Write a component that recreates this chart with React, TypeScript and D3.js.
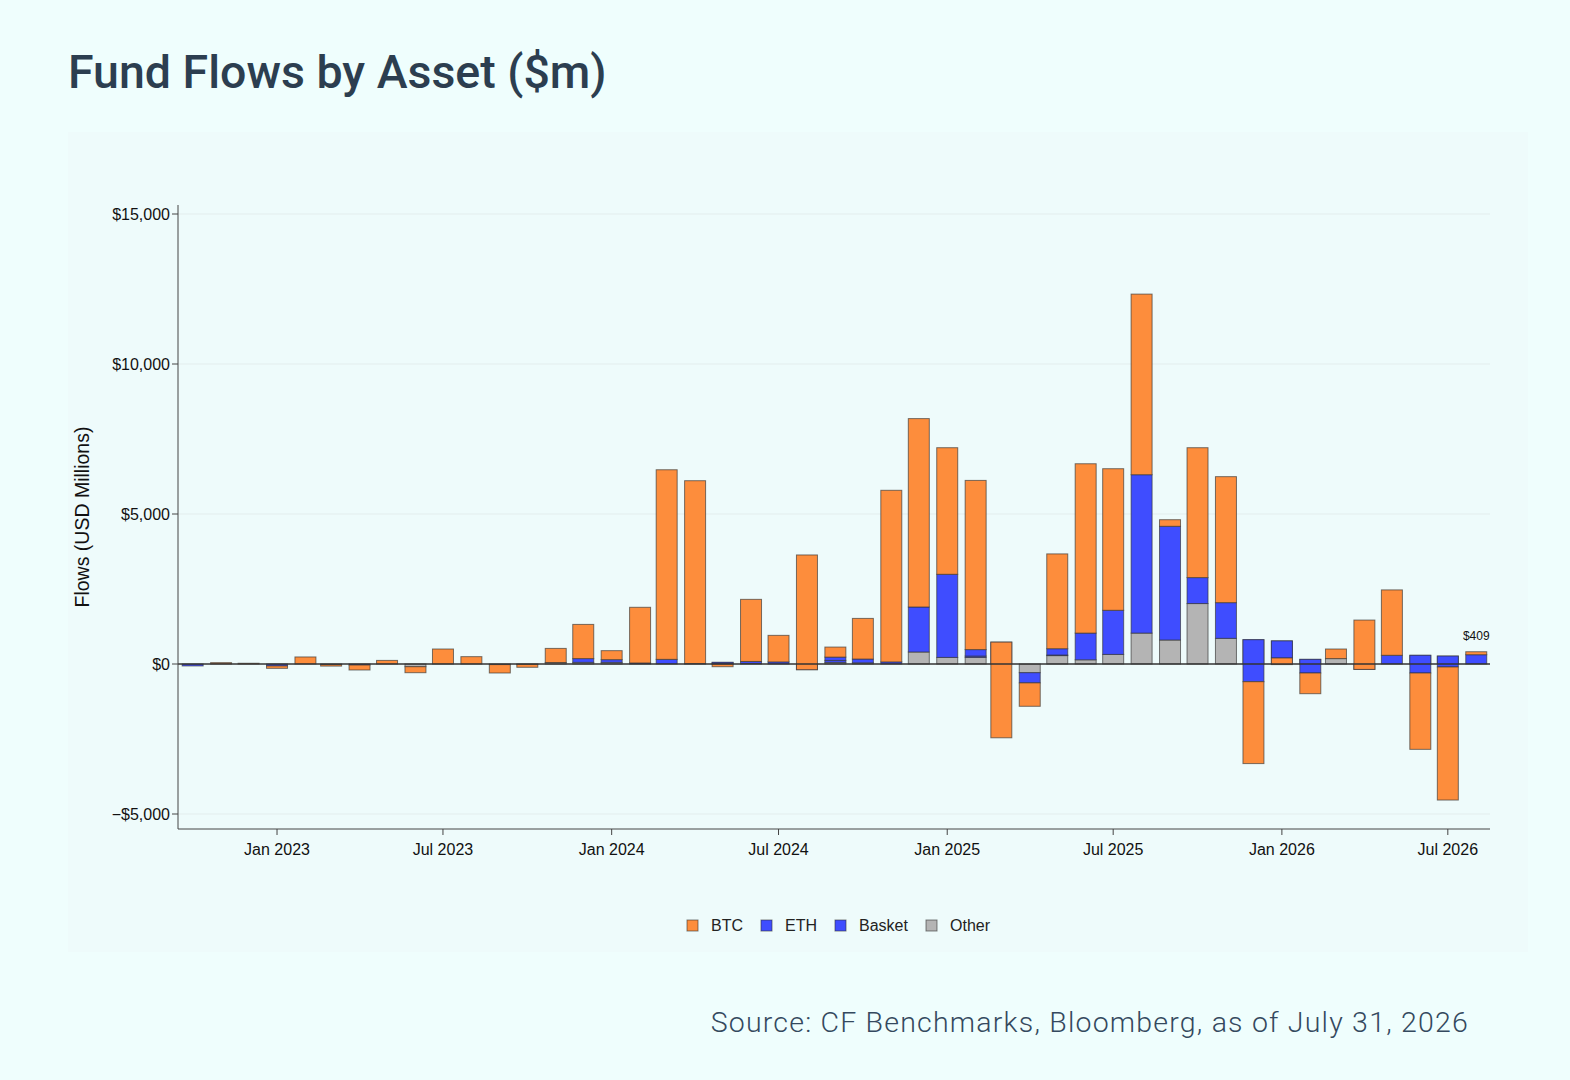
import React from 'react';
import * as d3 from 'd3';

// monthly flows, $m
const months = [
  '2022-10', '2022-11', '2022-12',
  '2023-01', '2023-02', '2023-03', '2023-04', '2023-05', '2023-06',
  '2023-07', '2023-08', '2023-09', '2023-10', '2023-11', '2023-12',
  '2024-01', '2024-02', '2024-03', '2024-04', '2024-05', '2024-06',
  '2024-07', '2024-08', '2024-09', '2024-10', '2024-11', '2024-12',
  '2025-01', '2025-02', '2025-03', '2025-04', '2025-05', '2025-06',
  '2025-07', '2025-08', '2025-09', '2025-10', '2025-11', '2025-12',
  '2026-01', '2026-02', '2026-03', '2026-04', '2026-05', '2026-06',
  '2026-07', '2026-08',
];

const other = [
  0, 0, 0, 0, 0, 0, 0, 0, -90, 0, 0, 0, 0, 50, 55,
  55, 0, 0, 0, 0, 20, 0, 0, 55, 40, 0, 400,
  220, 220, 0, -290, 280, 140, 320, 1030, 800, 2015, 855, 0,
  0, 0, 180, 0, 0, 0, 0, 0,
];
const eth = [
  -65, 0, 0, -65, 0, -20, -35, 0, 0, 0, 0, -20, -10, 0, 125,
  90, 35, 155, 15, 55, 65, 70, -190, 65, 125, 70, 1500,
  2770, 45, 730, -340, 20, 890, 1470, 5280, 3790, 865, 1190, 810,
  770, 155, 0, -180, 290, 290, 265, 310,
];
const basket = [
  0, 0, 0, 0, 0, 0, 0, 0, 0, 0, 0, 0, 0, 0, 0,
  0, 0, 0, 0, -55, 0, 0, 0, 110, 0, 0, 0,
  0, 215, 0, 0, 210, 0, 0, 0, 0, 0, 0, -1400,
  -570, -455, 0, 0, 0, -590, -365, 0,
];
const btc = [
  0, 45, 25, -80, 235, -50, -165, 120, -200, 500, 245, -280, -100, 470, 1140,
  300, 1855, 6320, 6095, -90, 2070, 885, 3825, 335, 1355, 5720, 6280,
  4220, 5640, -3190, -780, 3160, 5645, 4720, 6020, 220, 4330, 4200, -2730,
  -220, -690, 320, 1645, 2180, -2545, -4435, 99,
];

// stacking order (first = nearest zero, drawn first)
const seriesNames = ['Other', 'ETH', 'Basket', 'BTC'];
const seriesValues = [other, eth, basket, btc];
const seriesColors = ['#b4b4b4', '#3f4dff', '#3f4dff', '#fd8d3c'];

const legendNames = ['BTC', 'ETH', 'Basket', 'Other'];
const legendColors = ['#fd8d3c', '#3f4dff', '#3f4dff', '#b4b4b4'];

const xTicks = ['2023-01', '2023-07', '2024-01', '2024-07', '2025-01', '2025-07', '2026-01', '2026-07'];
const yTicks = [-5000, 0, 5000, 10000, 15000];

const parseMonth = d3.timeParse('%Y-%m');

export default function App() {
  const W = 1570;
  const H = 1080;
  const m = { left: 178, right: 1490, top: 205, bottom: 829 };

  const x = d3
    .scaleTime()
    .domain([new Date(2022, 8, 15), new Date(2026, 7, 16)])
    .range([m.left, m.right]);
  const y = d3.scaleLinear().domain([-5500, 15300]).range([m.bottom, m.top]);

  const barW = 21;
  const fmt = (v: number) => (v < 0 ? '\u2212$' : '$') + d3.format(',')(Math.abs(v));
  const tickFmt = d3.timeFormat('%b %Y');

  // cumulative stacking like plotly barmode "stack"
  const segments: { s: number; i: number; y0: number; y1: number }[] = [];
  months.forEach((mo, i) => {
    let acc = 0;
    seriesValues.forEach((vals, s) => {
      const v = vals[i];
      if (v !== 0) segments.push({ s, i, y0: acc, y1: acc + v });
      acc += v;
    });
  });

  const lastIdx = months.length - 1;
  const lastTotal = d3.sum(seriesValues, vals => vals[lastIdx]);
  const lastTop = d3.max(
    segments.filter(d => d.i === lastIdx),
    d => Math.max(d.y0, d.y1)
  ) || 0;

  const font = '"Liberation Sans", Arial, sans-serif';
  const legendTextW = [32, 32, 49, 38];
  let lx = 687;
  const legendX = legendTextW.map(w => {
    const p = lx;
    lx += 24 + w + 18;
    return p;
  });

  return (
    <svg width={W} height={H} style={{ position: 'absolute', left: 0, top: 0, display: 'block' }}>
      <rect width={W} height={H} fill="#effefd" />
      <rect x={68} y={132} width={1460} height={820} fill="#eefbfb" />

      <text x={68} y={88} fontFamily="Roboto, sans-serif" fontWeight={500} fontSize={46.5} fill="#2c3e50">
        Fund Flows by Asset ($m)
      </text>

      {/* grid */}
      {yTicks.filter(t => t !== 0).map(t => (
        <line key={t} x1={m.left} x2={m.right} y1={y(t)} y2={y(t)} stroke="#e3eded" strokeWidth={1} />
      ))}

      {/* bars */}
      {segments.map((d, k) => {
        const cx = x(parseMonth(months[d.i]) as Date);
        const top = y(Math.max(d.y0, d.y1));
        const bot = y(Math.min(d.y0, d.y1));
        return (
          <rect
            key={k}
            x={cx - barW / 2}
            y={top}
            width={barW}
            height={Math.max(0.5, bot - top)}
            fill={seriesColors[d.s]}
            stroke="rgba(50,50,50,0.65)"
            strokeWidth={1}
          />
        );
      })}

      {/* zero line */}
      <line x1={m.left} x2={m.right} y1={y(0)} y2={y(0)} stroke="#333" strokeWidth={1.5} />

      {/* y axis */}
      <line x1={m.left} x2={m.left} y1={m.top} y2={m.bottom} stroke="#444" strokeWidth={1} />
      {yTicks.map(t => (
        <g key={t} transform={`translate(${m.left},${y(t)})`}>
          <line x1={-6} x2={0} stroke="#444" />
          <text x={-8} dy="0.35em" textAnchor="end" fontFamily={font} fontSize={16} fill="#111">
            {fmt(t)}
          </text>
        </g>
      ))}
      <text
        transform={`translate(89,${(m.top + m.bottom) / 2}) rotate(-90)`}
        textAnchor="middle"
        fontFamily={font}
        fontSize={19.5}
        fill="#111"
      >
        Flows (USD Millions)
      </text>

      {/* x axis */}
      <line x1={m.left} x2={m.right} y1={m.bottom} y2={m.bottom} stroke="#444" strokeWidth={1} />
      {xTicks.map(t => {
        const d = parseMonth(t) as Date;
        return (
          <g key={t} transform={`translate(${x(d)},${m.bottom})`}>
            <line y1={0} y2={6} stroke="#444" />
            <text y={26} textAnchor="middle" fontFamily={font} fontSize={16} fill="#111">
              {tickFmt(d)}
            </text>
          </g>
        );
      })}

      {/* last value label */}
      <text
        x={x(parseMonth(months[lastIdx]) as Date)}
        y={y(lastTop) - 12}
        textAnchor="middle"
        fontFamily={font}
        fontSize={12}
        fill="#111"
      >
        {fmt(lastTotal)}
      </text>

      {/* legend */}
      {legendNames.map((n, i) => (
        <g key={n} transform={`translate(${legendX[i]},920)`}>
          <rect width={11} height={11} fill={legendColors[i]} stroke="rgba(50,50,50,0.6)" />
          <text x={24} y={10.5} fontFamily={font} fontSize={16} fill="#222">
            {n}
          </text>
        </g>
      ))}

      <text
        x={1469}
        y={1032}
        textAnchor="end"
        fontFamily="Roboto, sans-serif"
        fontWeight={300}
        fontSize={28.5}
        letterSpacing={1.2}
        fill="#34495e"
      >
        Source: CF Benchmarks, Bloomberg, as of July 31, 2026
      </text>
    </svg>
  );
}
